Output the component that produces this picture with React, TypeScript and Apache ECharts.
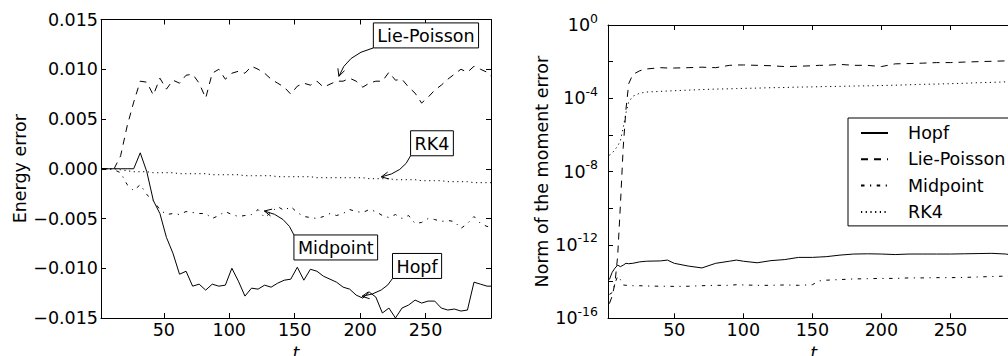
import React, { useEffect, useRef } from "react";
import * as echarts from "echarts";

const seriesNames = ["Hopf", "Lie-Poisson", "Midpoint", "RK4"];

// Left panel: energy error vs t
const tEnergy = [2, 7, 12, 17, 22, 27, 32, 37, 42, 47, 52, 57, 62, 67, 72, 77, 82, 87, 92, 97, 102, 107, 112, 117, 122, 127, 132, 137, 142, 147, 152, 157, 162, 167, 172, 177, 182, 187, 192, 197, 202, 207, 212, 217, 222, 227, 232, 237, 242, 247, 252, 257, 262, 267, 272, 277, 282, 287, 292, 297, 300];
const hopfEnergy = [0, 0, 0, 0, 0, 0, 0.0016, -0.0003, -0.0032, -0.0045, -0.0069, -0.0085, -0.0106, -0.0103, -0.0118, -0.0116, -0.0122, -0.0116, -0.0118, -0.0117, -0.0100, -0.0113, -0.0128, -0.0120, -0.0121, -0.0117, -0.0119, -0.0115, -0.0112, -0.0111, -0.0099, -0.0112, -0.0101, -0.0103, -0.0108, -0.0111, -0.0114, -0.0119, -0.0121, -0.0127, -0.0130, -0.0124, -0.0129, -0.0145, -0.0140, -0.0150, -0.0140, -0.0137, -0.0132, -0.0135, -0.0133, -0.0133, -0.0140, -0.0142, -0.0141, -0.0143, -0.0142, -0.0114, -0.0116, -0.0118, -0.0118];
const liePoissonEnergy = [0, 0, 0, 0.0013, 0.0043, 0.0067, 0.0088, 0.0087, 0.0074, 0.0091, 0.0080, 0.0089, 0.0086, 0.0094, 0.0095, 0.0086, 0.0071, 0.0096, 0.0100, 0.0090, 0.0096, 0.0098, 0.0096, 0.0103, 0.0100, 0.0096, 0.0090, 0.0086, 0.0082, 0.0075, 0.0083, 0.0086, 0.0084, 0.0088, 0.0082, 0.0085, 0.0088, 0.0088, 0.0091, 0.0088, 0.0082, 0.0086, 0.0088, 0.0088, 0.0097, 0.0089, 0.0090, 0.0082, 0.0076, 0.0066, 0.0072, 0.0079, 0.0084, 0.0090, 0.0095, 0.0100, 0.0097, 0.0103, 0.0100, 0.0097, 0.0093];
const midpointEnergy = [0, 0, -0.0001, -0.0004, -0.0016, -0.0022, -0.0016, -0.0026, -0.0032, -0.0041, -0.0046, -0.0045, -0.0046, -0.0043, -0.0044, -0.0045, -0.0045, -0.0050, -0.0047, -0.0043, -0.0046, -0.0048, -0.0047, -0.0046, -0.0041, -0.0049, -0.0044, -0.0038, -0.0042, -0.0038, -0.0044, -0.0048, -0.0049, -0.0050, -0.0048, -0.0045, -0.0047, -0.0045, -0.0041, -0.0043, -0.0044, -0.0041, -0.0043, -0.0047, -0.0049, -0.0046, -0.0050, -0.0047, -0.0055, -0.0054, -0.0050, -0.0051, -0.0053, -0.0052, -0.0053, -0.0060, -0.0055, -0.0048, -0.0055, -0.0058, -0.0058];
const rk4Energy = [0, 0, 0, -0.0001, -0.0002, -0.0003, -0.0003, -0.0003, -0.0004, -0.0004, -0.0004, -0.0004, -0.0005, -0.0005, -0.0005, -0.0005, -0.0005, -0.0006, -0.0006, -0.0006, -0.0006, -0.0006, -0.0007, -0.0007, -0.0007, -0.0007, -0.0007, -0.0008, -0.0008, -0.0008, -0.0008, -0.0008, -0.0008, -0.0009, -0.0009, -0.0009, -0.0009, -0.0009, -0.0009, -0.0009, -0.0009, -0.0010, -0.0010, -0.0010, -0.0010, -0.0011, -0.0011, -0.0011, -0.0011, -0.0012, -0.0012, -0.0012, -0.0012, -0.0013, -0.0013, -0.0013, -0.0013, -0.0014, -0.0014, -0.0014, -0.0014];

// Right panel: norm of the moment error vs t (log scale)
const tMoment = [3, 5, 7, 9, 11, 13, 15, 17, 20, 25, 30, 40, 45, 50, 60, 70, 80, 90, 95, 100, 110, 120, 130, 140, 150, 155, 160, 170, 180, 190, 200, 210, 220, 230, 240, 250, 260, 270, 280, 290, 300];
const hopfMoment = [1.3e-14, 3.2e-14, 5.4e-14, 7.9e-14, 6.6e-14, 7.9e-14, 1.0e-13, 9.5e-14, 1.0e-13, 1.2e-13, 1.3e-13, 1.35e-13, 1.5e-13, 1.0e-13, 7.1e-14, 5.6e-14, 1.0e-13, 1.3e-13, 1.5e-13, 1.3e-13, 1.07e-13, 1.4e-13, 1.6e-13, 2.1e-13, 2.1e-13, 2.2e-13, 2.3e-13, 2.8e-13, 3.2e-13, 3.3e-13, 3.2e-13, 3.0e-13, 3.2e-13, 3.2e-13, 3.2e-13, 3.2e-13, 3.3e-13, 3.4e-13, 3.5e-13, 3.2e-13, 2.5e-13];
const liePoissonMoment = [6.3e-16, 1.6e-15, 7.9e-15, 2.5e-13, 1.6e-10, 2.0e-7, 2.5e-5, 6.3e-4, 2.0e-3, 3.2e-3, 4.0e-3, 4.7e-3, 4.5e-3, 4.5e-3, 4.7e-3, 5.0e-3, 4.7e-3, 6.3e-3, 6.6e-3, 6.6e-3, 6.3e-3, 6.0e-3, 5.4e-3, 5.6e-3, 6.0e-3, 6.3e-3, 6.3e-3, 7.1e-3, 6.3e-3, 6.3e-3, 5.4e-3, 7.6e-3, 7.9e-3, 8.3e-3, 8.9e-3, 8.9e-3, 9.5e-3, 1.0e-2, 1.05e-2, 1.1e-2, 1.2e-2];
const midpointMoment = [2.0e-15, 2.5e-15, 7.9e-15, 2.0e-14, 1.3e-14, 6.6e-15, 6.3e-15, 6.3e-15, 6.0e-15, 6.0e-15, 5.8e-15, 5.6e-15, 5.6e-15, 5.5e-15, 5.6e-15, 6.0e-15, 6.3e-15, 6.3e-15, 6.8e-15, 6.6e-15, 6.3e-15, 6.3e-15, 6.6e-15, 6.3e-15, 6.8e-15, 1.1e-14, 1.2e-14, 1.3e-14, 1.4e-14, 1.45e-14, 1.5e-14, 1.5e-14, 1.6e-14, 1.6e-14, 1.65e-14, 1.65e-14, 1.7e-14, 1.8e-14, 1.9e-14, 2.0e-14, 2.0e-14];
const rk4Moment = [7.9e-8, 1.0e-7, 1.6e-7, 2.5e-7, 5.0e-7, 2.5e-6, 1.6e-5, 6.3e-5, 1.3e-4, 1.9e-4, 2.2e-4, 2.4e-4, 2.5e-4, 2.6e-4, 2.8e-4, 3.0e-4, 3.2e-4, 3.3e-4, 3.4e-4, 3.5e-4, 3.6e-4, 3.8e-4, 3.9e-4, 4.1e-4, 4.2e-4, 4.3e-4, 4.4e-4, 4.5e-4, 4.7e-4, 4.8e-4, 5.0e-4, 5.2e-4, 5.5e-4, 5.8e-4, 6.0e-4, 6.3e-4, 6.6e-4, 7.1e-4, 7.4e-4, 7.9e-4, 8.3e-4];

// Ticks
const timeTicks = [50, 100, 150, 200, 250];
const timeTicksRight = [50, 100, 150, 200, 250, 300];
const momentTicks = [1e-16, 1e-14, 1e-12, 1e-10, 1e-8, 1e-6, 1e-4, 1e-2, 1];
const momentLabelTicks = [1e-16, 1e-12, 1e-8, 1e-4, 1];

// Annotations on the left panel (data coordinates)
const annotationLabels = ["Lie-Poisson", "RK4", "Midpoint", "Hopf"];
const annotationBoxAt = [[250.3, 0.0134], [254.9, 0.00256], [181.4, -0.00791], [243.5, -0.00977]];
const annotationTipAt = [[183.3, 0.0091], [214.7, -0.00086], [125.3, -0.0042], [199.9, -0.01286]];
const annotationAnchor = ["bl", "bl", "tl", "bl"];
const annotationBend = ["ba", "ab", "ab", "ab"];

const FONT = "DejaVu Sans";
const FS = 17.5;

const lineTypes: Record<string, any> = {
  Hopf: "solid",
  "Lie-Poisson": [7, 6],
  Midpoint: [3.5, 5.5, 1.2, 5.5],
  RK4: [1.2, 3.5],
};

function axisLine() {
  return { show: true, onZero: false, lineStyle: { color: "#000", width: 1 } };
}
function tickStyle(vals?: number[]) {
  const t: any = { show: true, inside: true, length: 5, lineStyle: { color: "#000", width: 1 } };
  if (vals) t.customValues = vals;
  return t;
}
const labelText = { fontFamily: FONT, fontSize: FS, color: "#000" };

function energyFmt(v: number) {
  const s = Math.abs(v) < 1e-9 ? "0.000" : v.toFixed(3);
  return s.replace("-", "\u2212");
}
function momentFmt(v: number) {
  const e = Math.round(Math.log10(v));
  return `{b|10}{s|${e}}`;
}

function buildOption() {
  const leftSeries = [hopfEnergy, liePoissonEnergy, midpointEnergy, rk4Energy].map((vals, k) => ({
    type: "line",
    name: seriesNames[k],
    xAxisIndex: 0,
    yAxisIndex: 0,
    data: tEnergy.map((t, i) => [t, vals[i]]),
    symbol: "none",
    silent: true,
    itemStyle: { color: "#000" },
    lineStyle: { color: "#000", width: 1, type: lineTypes[seriesNames[k]] },
  }));
  const rightSeries = [hopfMoment, liePoissonMoment, midpointMoment, rk4Moment].map((vals, k) => ({
    type: "line",
    name: seriesNames[k],
    xAxisIndex: 2,
    yAxisIndex: 2,
    data: tMoment.map((t, i) => [t, vals[i]]),
    symbol: "none",
    silent: true,
    itemStyle: { color: "#000" },
    lineStyle: { color: "#000", width: 1, type: lineTypes[seriesNames[k]] },
  }));

  return {
    animation: false,
    backgroundColor: "#fff",
    textStyle: { fontFamily: FONT },
    grid: [
      { left: 101, top: 19.5, width: 390, height: 298.5, outerBoundsMode: "none", containLabel: false },
      { left: 608, top: 25, width: 411.5, height: 293.3, outerBoundsMode: "none", containLabel: false },
    ],
    legend: {
      show: true,
      data: seriesNames,
      orient: "vertical",
      left: 848,
      top: 118,
      padding: [5, 24, 4, 12],
      itemWidth: 27,
      itemHeight: 14,
      itemGap: 6.3,
      borderColor: "#000",
      borderWidth: 1,
      borderRadius: 0,
      backgroundColor: "#fff",
      selectedMode: false,
      itemStyle: { opacity: 0 },
      textStyle: { ...labelText, lineHeight: 20, padding: [0, 0, 0, 15] },
    },
    xAxis: [
      {
        type: "value", gridIndex: 0, position: "bottom", min: 2, max: 300,
        axisLine: axisLine(), axisTick: tickStyle(timeTicks),
        axisLabel: { ...labelText, customValues: timeTicks, margin: 3 },
        splitLine: { show: false },
        name: "t", nameLocation: "middle", nameGap: 21,
        nameTextStyle: { ...labelText, fontStyle: "italic" },
      },
      {
        type: "value", gridIndex: 0, position: "top", min: 2, max: 300,
        axisLine: axisLine(), axisTick: tickStyle(timeTicks),
        axisLabel: { show: false }, splitLine: { show: false },
      },
      {
        type: "value", gridIndex: 1, position: "bottom", min: 2, max: 300,
        axisLine: axisLine(), axisTick: tickStyle(timeTicksRight),
        axisLabel: { ...labelText, customValues: timeTicks, margin: 3 },
        splitLine: { show: false },
        name: "t", nameLocation: "middle", nameGap: 21,
        nameTextStyle: { ...labelText, fontStyle: "italic" },
      },
      {
        type: "value", gridIndex: 1, position: "top", min: 2, max: 300,
        axisLine: axisLine(), axisTick: tickStyle(timeTicksRight),
        axisLabel: { show: false }, splitLine: { show: false },
      },
    ],
    yAxis: [
      {
        type: "value", gridIndex: 0, position: "left", min: -0.015, max: 0.015, interval: 0.005,
        axisLine: axisLine(), axisTick: tickStyle(),
        axisLabel: { ...labelText, margin: 3, formatter: energyFmt },
        splitLine: { show: false },
        name: "Energy error", nameLocation: "middle", nameRotate: 90, nameGap: 70,
        nameTextStyle: labelText,
      },
      {
        type: "value", gridIndex: 0, position: "right", min: -0.015, max: 0.015, interval: 0.005,
        axisLine: axisLine(), axisTick: tickStyle(),
        axisLabel: { show: false }, splitLine: { show: false },
      },
      {
        type: "log", logBase: 10, gridIndex: 1, position: "left", min: 1e-16, max: 1,
        axisLine: axisLine(), axisTick: tickStyle(momentTicks),
        axisLabel: {
          ...labelText, customValues: momentLabelTicks, margin: 10, formatter: momentFmt,
          rich: {
            b: { fontFamily: FONT, fontSize: FS, color: "#000" },
            s: { fontFamily: FONT, fontSize: 12.5, color: "#000", padding: [0, 0, 14, 0] },
          },
        },
        splitLine: { show: false },
        name: "Norm of the moment error", nameLocation: "middle", nameRotate: 90, nameGap: 52,
        nameTextStyle: labelText,
      },
      {
        type: "log", logBase: 10, gridIndex: 1, position: "right", min: 1e-16, max: 1,
        axisLine: axisLine(), axisTick: tickStyle(momentTicks),
        axisLabel: { show: false }, splitLine: { show: false },
      },
    ],
    series: [...leftSeries, ...rightSeries],
  };
}

function buildAnnotations(chart: any) {
  const canvas = document.createElement("canvas");
  const ctx = canvas.getContext("2d") as CanvasRenderingContext2D;
  ctx.font = `${FS}px "${FONT}"`;
  const padX = 4;
  const boxH = 25;
  const elements: any[] = [];
  annotationLabels.forEach((label, i) => {
    const c = chart.convertToPixel({ xAxisIndex: 0, yAxisIndex: 0 }, annotationBoxAt[i]);
    const tip = chart.convertToPixel({ xAxisIndex: 0, yAxisIndex: 0 }, annotationTipAt[i]);
    const w = ctx.measureText(label).width + 2 * padX;
    const left = c[0] - w / 2;
    const top = c[1] - boxH / 2;
    const a = annotationAnchor[i] === "bl" ? [left, top + boxH] : [left, top];
    const corner = annotationBend[i] === "ab" ? [a[0], tip[1]] : [tip[0], a[1]];
    const mid = [(a[0] + tip[0]) / 2, (a[1] + tip[1]) / 2];
    const k = 0.55;
    const cp = [mid[0] + k * (corner[0] - mid[0]), mid[1] + k * (corner[1] - mid[1])];
    let dx = tip[0] - cp[0];
    let dy = tip[1] - cp[1];
    const len = Math.sqrt(dx * dx + dy * dy) || 1;
    dx /= len;
    dy /= len;
    const end = [tip[0] - dx * 2, tip[1] - dy * 2];
    const hl = 8;
    const ang = (26 * Math.PI) / 180;
    const rot = (x: number, y: number, t: number) => [x * Math.cos(t) - y * Math.sin(t), x * Math.sin(t) + y * Math.cos(t)];
    const r1 = rot(-dx, -dy, ang);
    const r2 = rot(-dx, -dy, -ang);
    elements.push({
      type: "bezierCurve",
      z: 20,
      silent: true,
      shape: { x1: a[0], y1: a[1], x2: end[0], y2: end[1], cpx1: cp[0], cpy1: cp[1] },
      style: { stroke: "#000", lineWidth: 1, fill: "none" },
    });
    elements.push({
      type: "polyline",
      z: 20,
      silent: true,
      shape: { points: [[end[0] + r1[0] * hl, end[1] + r1[1] * hl], end, [end[0] + r2[0] * hl, end[1] + r2[1] * hl]] },
      style: { stroke: "#000", lineWidth: 1, fill: "none" },
    });
    elements.push({
      type: "rect",
      z: 21,
      silent: true,
      shape: { x: left, y: top, width: w, height: boxH },
      style: { fill: "#fff", stroke: "#000", lineWidth: 1 },
    });
    elements.push({
      type: "text",
      z: 22,
      silent: true,
      x: c[0],
      y: c[1] + 1,
      style: { text: label, fontFamily: FONT, fontSize: FS, fill: "#000", align: "center", verticalAlign: "middle" },
    });
  });
  return elements;
}

export default function App() {
  const ref = useRef<HTMLDivElement>(null);
  useEffect(() => {
    if (!ref.current) return;
    const chart = echarts.init(ref.current, null, { renderer: "svg" });
    chart.setOption(buildOption() as any);
    chart.setOption({ graphic: { elements: buildAnnotations(chart) } } as any);
    return () => chart.dispose();
  }, []);
  return (
    <div style={{ position: "fixed", left: 0, top: 0, width: 1008, height: 356, overflow: "hidden", background: "#fff" }}>
      <div ref={ref} style={{ width: 1020, height: 356 }} />
    </div>
  );
}
